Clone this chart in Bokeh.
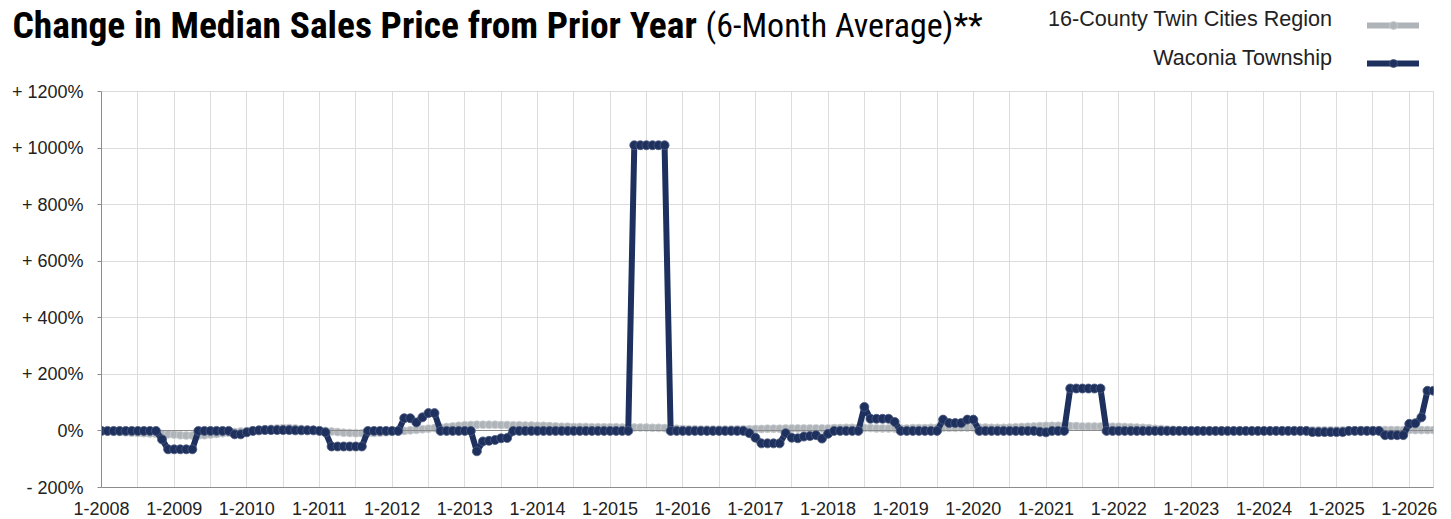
from bokeh.plotting import figure
from bokeh.layouts import column
from bokeh.models import FixedTicker, Legend, LegendItem, Range1d, ColumnDataSource
from bokeh.core.properties import value
from bokeh.embed import file_html
from bokeh.resources import INLINE

# ---------------- data ----------------
first_year = 2008
x_tick_labels = ["1-%d" % y for y in range(2008, 2027)]
y_ticks = [-200, 0, 200, 400, 600, 800, 1000, 1200]
y_tick_labels = ["- 200%", "0%", "+ 200%", "+ 400%", "+ 600%", "+ 800%", "+ 1000%", "+ 1200%"]

series_names = ["16-County Twin Cities Region", "Waconia Township"]
title_bold = "Change in Median Sales Price from Prior Year"
title_rest = "(6-Month Average)**"

# monthly 6-month-average change in median sales price (%), 1-2008 .. 5-2026
region = [
    -1, -2, -3, -4, -5, -6, -7, -8, -9, -10, -11, -12,        # 2008
    -13, -15, -16, -16, -16, -15, -13, -11, -8, -6, -4, -2,   # 2009
    0, 2, 4, 6, 8, 9, 10, 10, 9, 7, 5, 3,                     # 2010
    2, 0, -2, -4, -6, -7, -8, -8, -8, -7, -6, -5,             # 2011
    -3, -2, 0, 2, 4, 6, 8, 10, 12, 14, 16, 18,                # 2012
    20, 21, 22, 22, 22, 22, 21, 21, 20, 20, 19, 19,           # 2013
    18, 18, 17, 16, 15, 15, 14, 14, 14, 13, 13, 13,           # 2014
    13, 13, 12, 12, 12, 12, 12, 11, 11, 10, 9, 8,             # 2015
    7, 6, 6, 5, 5, 5, 5, 5, 5, 6, 6, 6,                       # 2016
    7, 7, 8, 8, 8, 9, 9, 9, 9, 9, 9, 9,                       # 2017
    9, 10, 10, 11, 11, 10, 10, 10, 9, 9, 9, 9,                # 2018
    9, 9, 10, 10, 10, 11, 11, 11, 11, 11, 12, 12,             # 2019
    12, 12, 12, 11, 11, 11, 12, 13, 14, 15, 16, 17,           # 2020
    18, 18, 18, 18, 17, 17, 16, 16, 16, 16, 15, 15,           # 2021
    15, 14, 13, 12, 11, 10, 8, 7, 5, 4, 3, 2,                 # 2022
    1, 0, -1, -1, -1, -1, 0, 0, 0, 0, 0, 1,                   # 2023
    1, 1, 2, 2, 2, 2, 2, 2, 2, 2, 2, 2,                       # 2024
    2, 2, 2, 2, 3, 3, 3, 3, 3, 3, 3, 3,                       # 2025
    3, 3, 3, 3, 3,                                            # 2026
]

waconia = [
    0, 0, 0, 0, 0, 0, 0, 0, 0, 0, -30, -65,                   # 2008
    -65, -65, -65, -65, 0, 0, 0, 0, 0, 0, -12, -12,           # 2009
    -5, 0, 2, 3, 3, 3, 3, 3, 2, 2, 2, 2,                      # 2010
    0, -5, -55, -55, -55, -55, -55, -55, 0, 0, 0, 0,          # 2011
    0, 0, 45, 45, 30, 48, 63, 63, 0, 0, 0, 0,                 # 2012
    0, 0, -72, -37, -35, -32, -26, -25, 0, 0, 0, 0,           # 2013
    0, 0, 0, 0, 0, 0, 0, 0, 0, 0, 0, 0,                       # 2014
    0, 0, 0, 0, 1010, 1010, 1010, 1010, 1010, 1010, 0, 0,     # 2015
    0, 0, 0, 0, 0, 0, 0, 0, 0, 0, 0, -8,                      # 2016
    -24, -44, -44, -44, -44, -8, -24, -26, -20, -18, -15, -27,  # 2017
    -10, 0, 0, 0, 0, 0, 85, 43, 43, 43, 43, 32,               # 2018
    0, 0, 0, 0, 0, 0, 0, 40, 28, 28, 28, 40,                  # 2019
    40, 0, 0, 0, 0, 0, 0, 0, 0, 0, 0, -3,                     # 2020
    -5, 0, 0, 0, 150, 150, 150, 150, 150, 150, 0, 0,          # 2021
    0, 0, 0, 0, 0, 0, 0, 0, 0, 0, 0, 0,                       # 2022
    0, 0, 0, 0, 0, 0, 0, 0, 0, 0, 0, 0,                       # 2023
    0, 0, 0, 0, 0, 0, 0, 0, -4, -4, -4, -4,                   # 2024
    -4, -4, 0, 0, 0, 0, 0, 0, -15, -15, -15, -15,             # 2025
    25, 27, 48, 142, 142,                                     # 2026
]

months = ["%d-%d" % (i % 12 + 1, first_year + i // 12) for i in range(len(waconia))]
month_index = list(range(len(waconia)))
x_ticks = [12 * k for k in range(len(x_tick_labels))]

# ---------------- styles ----------------
NAVY = "#1e305e"
GRAY = "#afb4b9"
FONT = "Liberation Sans"
COND = "Roboto Condensed"
W = 1451
TOP_H = 80

# ---------------- header (title + legend) ----------------
head = figure(width=W, height=TOP_H, output_backend="svg", toolbar_location=None,
              x_range=Range1d(0, W), y_range=Range1d(TOP_H, 0),
              min_border=0, min_border_left=0, min_border_right=0,
              min_border_top=0, min_border_bottom=0)
head.axis.visible = False
head.grid.visible = False
head.outline_line_color = None
head.background_fill_color = "white"
head.border_fill_color = "white"

head.text(x=[12], y=[24], text=[title_bold], text_font=value(COND),
          text_font_style="bold", text_font_size="37.5px", text_color="#000000",
          text_baseline="middle", text_align="left")
head.text(x=[705], y=[24], text=[title_rest], text_font=value(COND),
          text_font_size="34px", text_color="#000000",
          text_baseline="middle", text_align="left")
head.text(x=[1332, 1332], y=[18, 57], text=series_names, text_font=value(FONT),
          text_font_size="21.6px", text_color="#222222",
          text_baseline="middle", text_align="right")

# legend swatches: renderers styled like the series, holding no visible point
blank = ColumnDataSource(dict(x=[float("nan")], y=[float("nan")]))
hg_line = head.line("x", "y", source=blank, line_color=GRAY, line_width=6, line_cap="round")
hg_pts = head.scatter("x", "y", source=blank, fill_color=GRAY, line_color="#cdd1d4", line_width=0.8)
hn_line = head.line("x", "y", source=blank, line_color=NAVY, line_width=6, line_cap="round")
hn_pts = head.scatter("x", "y", source=blank, fill_color=NAVY, line_color="#4c5b7e", line_width=0.8)
legend = Legend(items=[LegendItem(label=value(" "), renderers=[hg_line, hg_pts], index=0),
                       LegendItem(label=value(" "), renderers=[hn_line, hn_pts], index=0)],
                location=(1367, 7), orientation="vertical",
                glyph_width=52, glyph_height=20, label_width=0, label_standoff=0,
                label_height=20, label_text_font_size="1px", padding=0, margin=0, spacing=18,
                border_line_color=None, background_fill_alpha=0)
head.add_layout(legend)

# ---------------- main chart ----------------
src = ColumnDataSource(dict(x=month_index, month=months, region=region, waconia=waconia))

p = figure(width=W, height=519 - TOP_H, output_backend="svg", toolbar_location=None,
           x_range=Range1d(0, len(waconia) - 1), y_range=Range1d(-200, 1200),
           min_border_left=101, min_border_right=18, min_border_top=11, min_border_bottom=32)
p.background_fill_color = "white"
p.border_fill_color = "white"
p.outline_line_color = "#d9d9d9"

p.xgrid.ticker = FixedTicker(ticks=list(range(0, len(waconia), 6)))
p.ygrid.ticker = FixedTicker(ticks=y_ticks)
p.xgrid.grid_line_color = "#dcdcdc"
p.ygrid.grid_line_color = "#dcdcdc"

p.xaxis.ticker = FixedTicker(ticks=x_ticks)
p.xaxis.major_label_overrides = {t: l for t, l in zip(x_ticks, x_tick_labels)}
p.yaxis.ticker = FixedTicker(ticks=y_ticks)
p.yaxis.major_label_overrides = {t: l for t, l in zip(y_ticks, y_tick_labels)}
for ax in (p.xaxis, p.yaxis):
    ax.axis_line_color = "#8c8c8c"
    ax.major_label_text_font = FONT
    ax.major_label_text_font_size = "18px"
    ax.major_label_text_color = "#222222"
    ax.minor_tick_line_color = None
p.xaxis.major_tick_line_color = None
p.xaxis.major_label_standoff = 8
p.yaxis.major_tick_line_color = "#8c8c8c"
p.yaxis.major_tick_in = 0
p.yaxis.major_tick_out = 4
p.yaxis.major_label_standoff = 14

p.line("x", "region", source=src, line_color=GRAY, line_width=6,
       line_cap="round", line_join="round")
p.scatter("x", "region", source=src, size=8, fill_color=GRAY,
          line_color="#cdd1d4", line_width=0.8)
p.hspan(y=[0], line_color="#8a8a8a", line_width=1.2)
p.line("x", "waconia", source=src, line_color=NAVY, line_width=6,
       line_cap="round", line_join="round")
p.scatter("x", "waconia", source=src, size=9, fill_color=NAVY,
          line_color="#4c5b7e", line_width=0.8)

layout = column(column(head), column(p), spacing=0)
open("out.html", "w").write(file_html(layout, INLINE))
